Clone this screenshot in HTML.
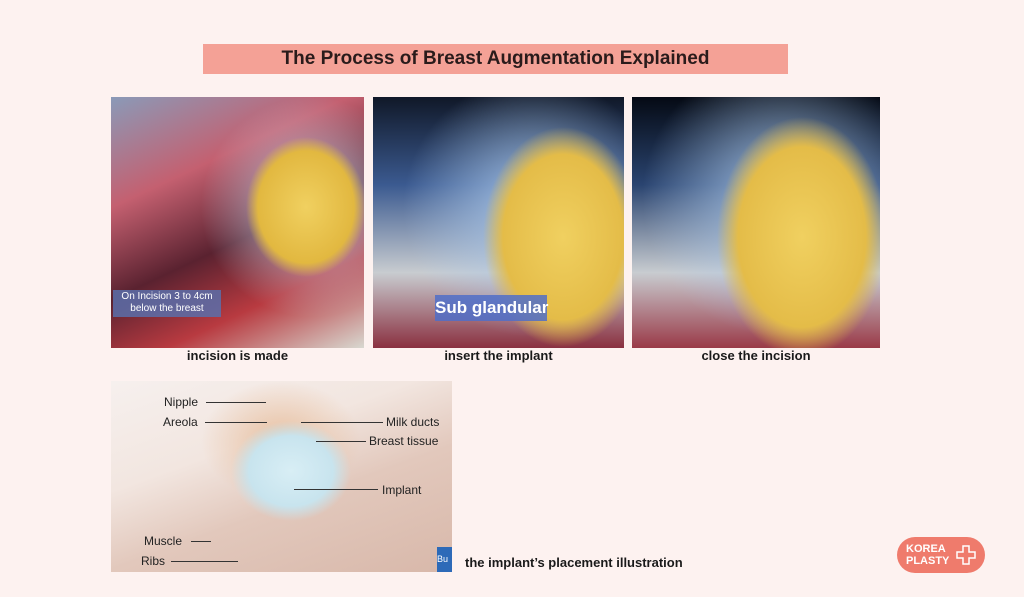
<!DOCTYPE html>
<html><head><style>
body{margin:0;width:1024px;height:597px;background:#fdf2f0;position:relative;overflow:hidden;font-family:"Liberation Sans",sans-serif;}
.abs{position:absolute;}
.title{left:203px;top:44px;width:585px;height:30px;background:#f4a196;text-align:center;font-weight:bold;font-size:19px;line-height:30px;color:#2a1b1b;}
.cap{font-weight:bold;font-size:13px;color:#1a1a1a;text-align:center;}
.p{overflow:hidden;}
.lbl{font-size:12px;color:#222;white-space:nowrap;}
.ln{height:1px;background:#333;}
</style></head><body>
<div class="abs title">The Process of Breast Augmentation Explained</div>

<div class="abs p" style="left:111px;top:97px;width:253px;height:251px;background:
radial-gradient(ellipse 60px 70px at 195px 110px,#f0d060 0,#e2b840 80%,rgba(220,200,150,0) 100%),
radial-gradient(ellipse 110px 110px at 200px 110px,rgba(200,215,235,.9),rgba(200,215,235,0) 100%),
linear-gradient(155deg,#8a9ab8 0,#c46070 30%,#5a2230 55%,#b83a40 75%,#d8d8d0 100%);">
<div class="abs" style="left:2px;top:193px;width:108px;height:26px;background:rgba(90,110,170,.85);color:#fff;font-size:10px;text-align:center;line-height:12px;padding-top:1px;">On Incision 3 to 4cm<br>below the breast</div>
</div>
<div class="abs p" style="left:373px;top:97px;width:251px;height:251px;background:
radial-gradient(ellipse 80px 110px at 190px 140px,#f0d060 0,#e4bc48 75%,rgba(220,200,150,0) 100%),
radial-gradient(ellipse 130px 130px at 160px 110px,rgba(170,200,235,.95),rgba(170,200,235,0) 100%),
linear-gradient(180deg,#101828 0,#3b5a90 35%,#c8ccd0 70%,#8a3040 100%);">
<div class="abs" style="left:62px;top:198px;width:112px;height:26px;background:rgba(80,110,200,.85);color:#fff;font-size:17px;font-weight:bold;text-align:center;line-height:26px;white-space:nowrap;">Sub glandular</div>
</div>
<div class="abs p" style="left:632px;top:97px;width:248px;height:251px;background:
radial-gradient(ellipse 85px 120px at 170px 140px,#f0d060 0,#e4bc48 75%,rgba(220,200,150,0) 100%),
radial-gradient(ellipse 140px 140px at 150px 100px,rgba(170,200,235,.95),rgba(170,200,235,0) 100%),
linear-gradient(180deg,#050a14 0,#2a4470 35%,#c8ccd0 70%,#9a3a48 100%);"></div>

<div class="abs cap" style="left:111px;top:348px;width:253px;">incision is made</div>
<div class="abs cap" style="left:373px;top:348px;width:251px;">insert the implant</div>
<div class="abs cap" style="left:632px;top:348px;width:248px;">close the incision</div>

<div class="abs p" style="left:111px;top:381px;width:341px;height:191px;background:
radial-gradient(ellipse 60px 50px at 180px 90px,#d8eef5 0,#c8e4ee 70%,rgba(220,200,180,0) 100%),
radial-gradient(ellipse 80px 60px at 170px 60px,#e8c0a0 0,rgba(240,210,190,0) 100%),
linear-gradient(160deg,#f6f0ee 0,#f2e6e0 35%,#e2c8bc 60%,#d8b8aa 100%);">
<div class="abs" style="left:326px;top:166px;width:15px;height:25px;background:#2d6ab8;color:#fff;font-size:9px;line-height:25px;">Bu</div>
<div class="abs lbl" style="left:53px;top:14px;">Nipple</div><div class="abs ln" style="left:95px;top:21px;width:60px;"></div>
<div class="abs lbl" style="left:52px;top:34px;">Areola</div><div class="abs ln" style="left:94px;top:41px;width:62px;"></div>
<div class="abs ln" style="left:190px;top:41px;width:82px;"></div><div class="abs lbl" style="left:275px;top:34px;">Milk ducts</div>
<div class="abs ln" style="left:205px;top:60px;width:50px;"></div><div class="abs lbl" style="left:258px;top:53px;">Breast tissue</div>
<div class="abs ln" style="left:183px;top:108px;width:84px;"></div><div class="abs lbl" style="left:271px;top:102px;">Implant</div>
<div class="abs lbl" style="left:33px;top:153px;">Muscle</div><div class="abs ln" style="left:80px;top:160px;width:20px;"></div>
<div class="abs lbl" style="left:30px;top:173px;">Ribs</div><div class="abs ln" style="left:60px;top:180px;width:67px;"></div>
</div>
<div class="abs cap" style="left:465px;top:555px;text-align:left;">the implant’s placement illustration</div>

<div class="abs" style="left:897px;top:537px;width:88px;height:36px;border-radius:18px;background:#ef7b6c;color:#fff;font-size:11px;font-weight:bold;line-height:12px;">
<div class="abs" style="left:9px;top:6px;">KOREA<br>PLASTY</div>
<svg class="abs" style="left:59px;top:8px" width="20" height="20"><path d="M7 1h6v6h6v6h-6v6H7v-6H1V7h6z" fill="none" stroke="#fff" stroke-width="1.5"/></svg>
</div>
</body></html>
